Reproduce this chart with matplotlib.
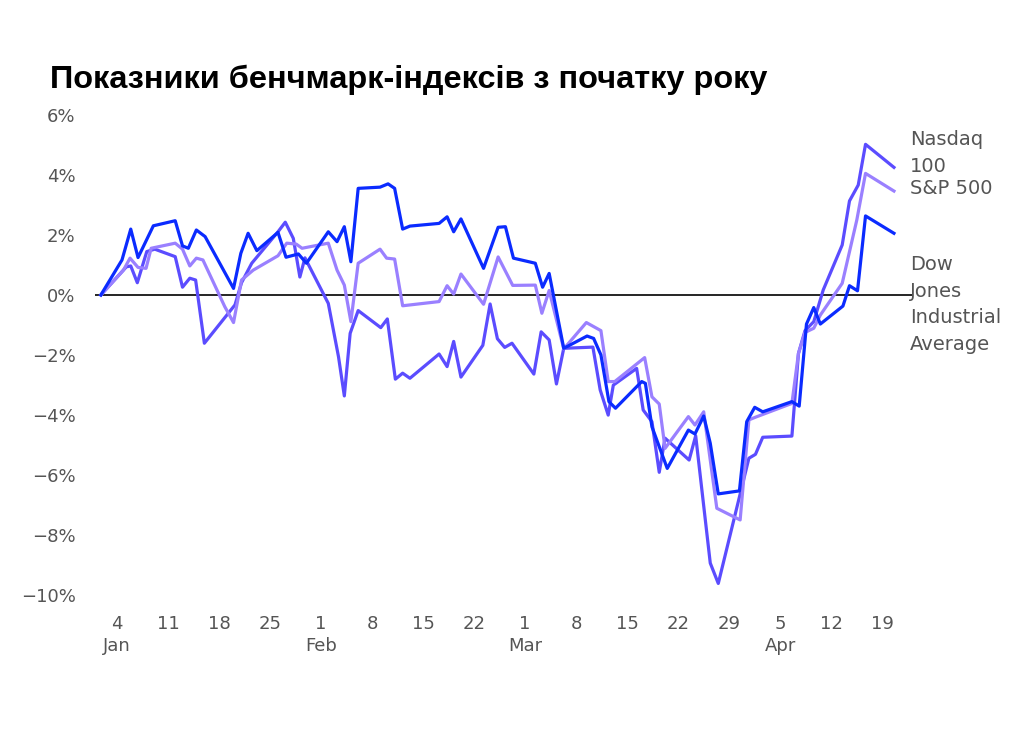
from matplotlib import pyplot as plt

# day of year (Jan 1 = 1) and % change since start of year
dow_days = [1.8, 4.7, 5.9, 6.9, 9.0, 12.0, 13.0, 13.8, 14.9, 16.1, 20.0, 21.0, 22.0, 23.2, 26.1, 27.2,
            28.9, 30.0, 33.0, 34.2, 35.2, 36.1, 37.1, 40.1, 41.2, 42.1, 43.2, 44.2, 48.2, 49.3, 50.2,
            51.2, 54.3, 56.3, 57.3, 58.4, 61.4, 62.4, 63.3, 65.3, 68.5, 69.4, 70.4, 71.5, 72.4, 76.0,
            76.5, 77.4, 79.5, 82.4, 83.3, 84.5, 85.4, 86.5, 89.4, 90.4, 91.5, 92.6, 96.6, 97.6, 98.6,
            99.6, 100.5, 103.6, 104.5, 105.6, 106.7, 110.6]
dow = [0, 1.17, 2.20, 1.25, 2.31, 2.48, 1.64, 1.56, 2.17, 1.95, 0.22, 1.39, 2.06, 1.48, 2.09, 1.26,
       1.37, 1.06, 2.11, 1.78, 2.28, 1.11, 3.56, 3.60, 3.71, 3.56, 2.20, 2.30, 2.39, 2.61, 2.11,
       2.54, 0.89, 2.26, 2.28, 1.23, 1.06, 0.26, 0.72, -1.78, -1.37, -1.45, -2.00, -3.56, -3.78, -2.89,
       -2.95, -4.40, -5.79, -4.51, -4.64, -4.04, -4.95, -6.64, -6.54, -4.23, -3.75, -3.90, -3.56, -3.71, -0.97,
       -0.42, -0.97, -0.37, 0.31, 0.14, 2.64, 2.06]

nasdaq_days = [1.8, 5.3, 5.9, 6.8, 8.1, 9.2, 12.0, 13.0, 14.0, 14.8, 16.0, 20.2, 21.1, 22.5, 26.1, 27.1,
               28.2, 29.1, 29.8, 33.0, 34.4, 35.2, 36.0, 37.1, 40.2, 41.1, 42.2, 43.2, 44.2, 48.2, 49.3,
               50.2, 51.2, 54.2, 55.2, 56.2, 57.2, 58.2, 61.2, 62.2, 63.3, 64.3, 65.3, 69.3, 70.3, 71.4,
               72.1, 75.3, 76.2, 77.4, 78.4, 79.2, 82.5, 83.4, 85.4, 86.5, 90.7, 91.6, 92.6, 96.6, 97.5,
               98.4, 99.6, 100.9, 103.5, 104.5, 105.7, 106.7, 110.6]
nasdaq = [0, 0.94, 0.97, 0.41, 1.45, 1.53, 1.28, 0.26, 0.56, 0.50, -1.61, -0.33, 0.41, 1.06, 2.11, 2.43,
          1.89, 0.60, 1.24, -0.28, -2.06, -3.37, -1.28, -0.52, -1.09, -0.80, -2.81, -2.61, -2.78, -1.97, -2.39,
          -1.55, -2.74, -1.68, -0.30, -1.46, -1.75, -1.61, -2.64, -1.23, -1.50, -2.97, -1.78, -1.74, -3.17, -4.01,
          -3.01, -2.45, -3.84, -4.23, -5.92, -4.78, -5.51, -4.70, -8.95, -9.63, -5.45, -5.32, -4.75, -4.71, -1.95,
          -1.19, -0.89, 0.17, 1.67, 3.14, 3.67, 5.03, 4.26]

sp_days = [1.8, 4.9, 5.8, 6.9, 8.0, 8.7, 12.0, 13.0, 14.0, 14.9, 15.8, 18.8, 20.0, 21.1, 22.7, 26.1,
           27.3, 28.6, 29.4, 33.0, 34.2, 35.2, 36.1, 37.1, 40.1, 41.0, 42.1, 43.2, 48.2, 49.3, 50.2,
           51.2, 54.3, 56.3, 58.3, 61.4, 62.3, 63.3, 65.3, 68.4, 70.4, 71.4, 72.3, 76.4, 77.4, 78.4,
           79.2, 82.4, 83.3, 84.5, 86.3, 89.5, 90.7, 91.6, 96.6, 97.5, 98.4, 99.6, 100.5, 103.5, 105.5,
           106.7, 110.6]
sp500 = [0, 0.83, 1.23, 0.92, 0.89, 1.56, 1.73, 1.53, 0.97, 1.23, 1.17, -0.39, -0.92, 0.50, 0.83, 1.31,
         1.73, 1.70, 1.56, 1.73, 0.83, 0.33, -0.89, 1.06, 1.53, 1.23, 1.20, -0.36, -0.22, 0.31, 0.03,
         0.70, -0.31, 1.27, 0.32, 0.33, -0.61, 0.15, -1.80, -0.92, -1.19, -2.89, -2.89, -2.09, -3.40, -3.64,
         -5.12, -4.06, -4.34, -3.90, -7.12, -7.51, -4.17, -4.08, -3.62, -1.95, -1.25, -1.11, -0.67, 0.39, 2.50,
         4.06, 3.47]

tick_days = [4, 11, 18, 25, 32, 39, 46, 53, 60, 67, 74, 81, 88, 95, 102, 109]
tick_labels = ["4\nJan", "11", "18", "25", "1\nFeb", "8", "15", "22", "1\nMar", "8", "15", "22",
               "29", "5\nApr", "12", "19"]
y_ticks = [6, 4, 2, 0, -2, -4, -6, -8, -10]
y_labels = ["6%", "4%", "2%", "0%", "\u22122%", "\u22124%", "\u22126%", "\u22128%", "\u221210%"]

title = "Показники бенчмарк-індексів з початку року"
text_gray = "#555555"

fig = plt.figure(figsize=(10.24, 7.31), dpi=100)
ax = fig.add_axes([0.0928, 0.1662, 0.798, 0.6966])

ax.plot(nasdaq_days, nasdaq, color="#5b4cff", lw=2.3)
ax.plot(sp_days, sp500, color="#9a80ff", lw=2.3)
ax.plot(dow_days, dow, color="#0b2bff", lw=2.3)
ax.axhline(0, color="black", lw=1.2, zorder=1)

ax.set_xlim(1, 113.1)
ax.set_ylim(-10.5, 6.5)
ax.set_xticks(tick_days)
ax.set_xticklabels(tick_labels, fontsize=13, color=text_gray, linespacing=1.3)
ax.set_yticks(y_ticks)
ax.set_yticklabels(y_labels, fontsize=13, color=text_gray)
ax.tick_params(axis="x", length=0, pad=4)
ax.tick_params(axis="y", length=0, pad=14)
for s in ax.spines.values():
    s.set_visible(False)

lab = dict(fontsize=14, color=text_gray, ha="left", va="center", linespacing=1.5, clip_on=False)
ax.text(112.8, 4.74, "Nasdaq\n100", **lab)
ax.text(112.8, 3.54, "S&P 500", **lab)
ax.text(112.8, -0.32, "Dow\nJones\nIndustrial\nAverage", **lab)

fig.text(50 / 1024, 1 - 88 / 731, title, fontsize=23.4, fontweight="bold",
         family="Liberation Sans", ha="left", va="baseline")

plt.savefig("out.png", dpi=100)
plt.close(fig)
